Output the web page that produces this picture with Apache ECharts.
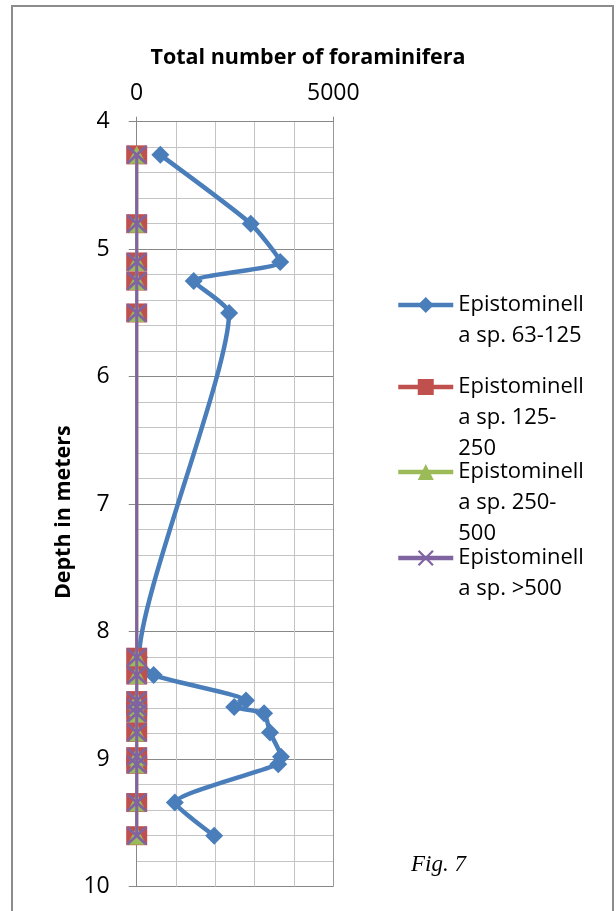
<!DOCTYPE html>
<html>
<head>
<meta charset="utf-8">
<script src="https://cdn.jsdelivr.net/npm/echarts@6/dist/echarts.min.js"></script>
<style>
  html, body { margin: 0; padding: 0; background: #fff; }
  #chart { width: 616px; height: 911px; }
</style>
</head>
<body>
<div id="chart"></div>
<script>
// Sample depths (m) and foraminifera counts per size fraction
const depths = [4.26, 4.8, 5.1, 5.25, 5.5, 8.2, 8.34, 8.54, 8.59, 8.64, 8.79, 8.98, 9.04, 9.34, 9.6];
const count63to125 = [600, 2900, 3650, 1450, 2350, 60, 430, 2780, 2480, 3240, 3390, 3670, 3600, 970, 1970];
const count125to250 = [0, 0, 0, 0, 0, 0, 0, 0, 0, 0, 0, 0, 0, 0, 0];
const count250to500 = [0, 0, 0, 0, 0, 0, 0, 0, 0, 0, 0, 0, 0, 0, 0];
const countOver500 = [0, 0, 0, 0, 0, 0, 0, 0, 0, 0, 0, 0, 0, 0, 0];

const seriesNames = [
  'Epistominella sp. 63-125',
  'Epistominella sp. 125-250',
  'Epistominella sp. 250-500',
  'Epistominella sp. >500'
];
// Wrapped legend captions
const legendLabels = [
  'Epistominell\na sp. 63-125',
  'Epistominell\na sp. 125-\n250',
  'Epistominell\na sp. 250-\n500',
  'Epistominell\na sp. >500'
];
const xTickLabels = ['0', '5000'];

const FONT = '"Open Sans", "Noto Sans", sans-serif';
const COLORS = ['#4a7ebb', '#c0504d', '#9bbb59', '#8064a2'];
const CROSS = 'path://M0,1L1,0L5,4L9,0L10,1L6,5L10,9L9,10L5,6L1,10L0,9L4,5Z';

function pairs(values) {
  return values.map((v, i) => [v, depths[i]]);
}

const chart = echarts.init(document.getElementById('chart'), null, { renderer: 'canvas' });

// Each legend entry is its own component so the icon sits level with the
// first caption line; blank leading lines keep the caption block centred there.
const LH = 31;
const ITEM_H = 20;
const legendIconY = [305, 387, 472, 558];
const legends = legendLabels.map((label, i) => {
  const lines = label.split('\n').length;
  const padded = '\n'.repeat(lines - 1) + label;
  const blockH = (2 * lines - 1) * LH;
  return {
    data: [seriesNames[i]],
    orient: 'vertical',
    left: 396,
    top: legendIconY[i] - blockH / 2,
    padding: 0,
    itemWidth: 55,
    itemHeight: ITEM_H,
    formatter: () => padded,
    lineStyle: { width: 4.5 },
    textStyle: {
      fontFamily: FONT,
      fontSize: 22,
      color: '#000',
      lineHeight: LH
    }
  };
});

const option = {
  animation: false,
  backgroundColor: '#fff',
  title: [
    {
      text: 'Total number of foraminifera',
      left: 'center',
      top: 42,
      padding: [5, 13, 5, 5],
      textStyle: { fontFamily: FONT, fontSize: 21.5, fontWeight: 'bold', color: '#000' }
    },
    {
      text: 'Fig. 7',
      left: 411,
      top: 853,
      padding: 0,
      textStyle: {
        fontFamily: '"Liberation Serif", "DejaVu Serif", serif',
        fontSize: 23, fontStyle: 'italic', fontWeight: 'normal', color: '#000'
      }
    }
  ],
  legend: legends,
  graphic: [
    {
      type: 'rect',
      silent: true,
      shape: { x: 12, y: 6, width: 601, height: 930 },
      style: { fill: 'transparent', stroke: '#8c8c8c', lineWidth: 2 }
    }
  ],
  grid: { left: 136.7, top: 121.7, right: 282.7, bottom: 24.3, containLabel: false },
  xAxis: {
    type: 'value',
    position: 'top',
    min: 0,
    max: 5000,
    interval: 5000,
    axisLine: { show: true, lineStyle: { color: '#888', width: 1 } },
    axisTick: { show: true, inside: false, length: 5, lineStyle: { color: '#888' } },
    axisLabel: {
      margin: 17,
      fontFamily: FONT, fontSize: 23, color: '#000',
      formatter: (v) => xTickLabels[Math.round(v / 5000)]
    },
    splitLine: { show: true, lineStyle: { color: '#999', width: 1 } },
    minorTick: { show: false, splitNumber: 5 },
    minorSplitLine: { show: true, lineStyle: { color: '#c4c4c4', width: 1 } }
  },
  yAxis: {
    type: 'value',
    inverse: true,
    min: 4,
    max: 10,
    interval: 1,
    name: 'Depth in meters',
    nameLocation: 'middle',
    nameGap: 62,
    nameRotate: 90,
    nameTextStyle: {
      fontFamily: FONT, fontSize: 21.5, fontWeight: 'bold', color: '#000',
      padding: [0, 16, 0, 0]
    },
    axisLine: { show: true, lineStyle: { color: '#888', width: 1 } },
    axisTick: { show: true, inside: false, length: 8, lineStyle: { color: '#888' } },
    axisLabel: { margin: 27, fontFamily: FONT, fontSize: 23, color: '#000' },
    splitLine: { show: true, lineStyle: { color: '#888', width: 1 } },
    minorTick: { show: false, splitNumber: 5 },
    minorSplitLine: { show: true, lineStyle: { color: '#c4c4c4', width: 1 } }
  },
  series: [
    {
      name: seriesNames[0],
      type: 'line',
      data: pairs(count63to125),
      smooth: 0.18,
      symbol: 'diamond',
      symbolSize: 18,
      lineStyle: { color: COLORS[0], width: 4.5 },
      itemStyle: { color: COLORS[0] },
      z: 2
    },
    {
      name: seriesNames[1],
      type: 'line',
      data: pairs(count125to250),
      symbol: 'rect',
      symbolSize: [21, 19],
      lineStyle: { color: COLORS[1], width: 3 },
      itemStyle: { color: COLORS[1] },
      z: 3
    },
    {
      name: seriesNames[2],
      type: 'line',
      data: pairs(count250to500),
      symbol: 'triangle',
      symbolSize: [19, 18],
      lineStyle: { color: COLORS[2], width: 3 },
      itemStyle: { color: COLORS[2] },
      z: 4
    },
    {
      name: seriesNames[3],
      type: 'line',
      data: pairs(countOver500),
      symbol: CROSS,
      symbolSize: [21, 19],
      lineStyle: { color: COLORS[3], width: 3 },
      itemStyle: { color: COLORS[3] },
      z: 5
    }
  ]
};

chart.setOption(option);
</script>
</body>
</html>
